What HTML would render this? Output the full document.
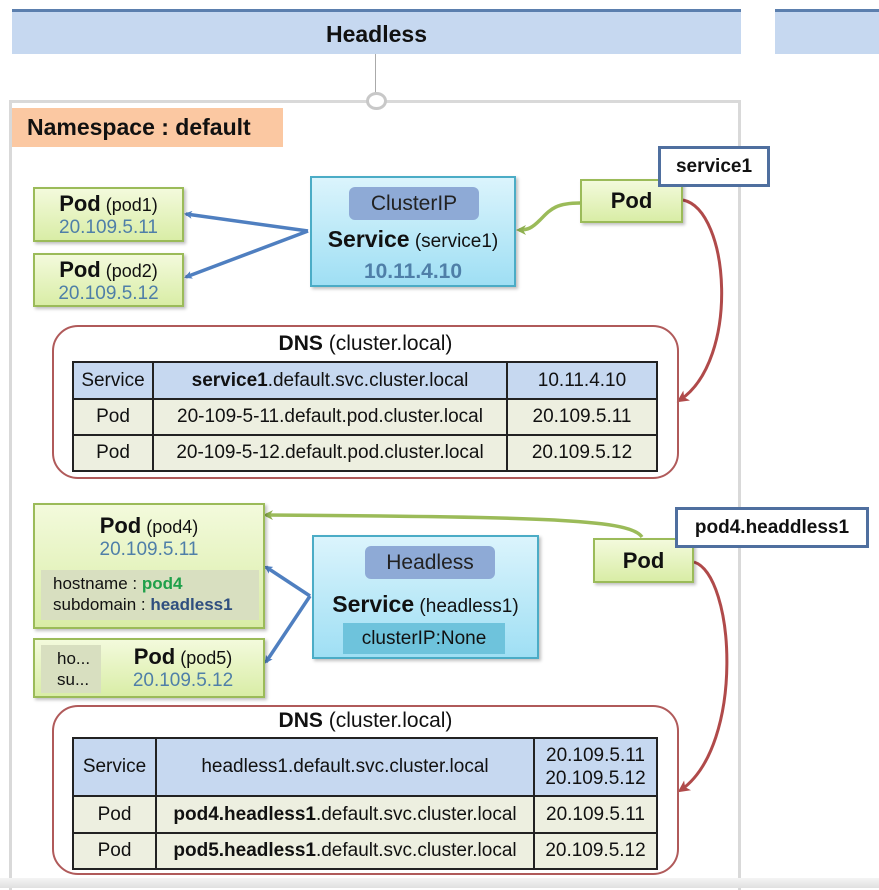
<!DOCTYPE html>
<html><head><meta charset="utf-8"><style>
*{box-sizing:border-box;margin:0;padding:0}
body{width:879px;height:888px;position:relative;background:#fff;font-family:"Liberation Sans",sans-serif;overflow:hidden;color:#111}
.a{position:absolute}
.bar{background:#c6d8f0;border-top:3px solid #5b7fae}
.pod{position:absolute;background:linear-gradient(#f3fadc,#d9eda6);border:2px solid #9bbb59;box-shadow:2px 2px 3px rgba(0,0,0,.25);text-align:center}
.svc{position:absolute;background:linear-gradient(#dbf4fc,#9fdff4);border:2px solid #4bacc6;box-shadow:2px 2px 3px rgba(0,0,0,.25);text-align:center}
.pill{position:absolute;background:#8eaad6;border-radius:6px;text-align:center;color:#222}
.b{font-weight:bold}
.ip{color:#4f7fa8}
.dns{position:absolute;border:2px solid #b05a5a;border-radius:26px}
table{position:absolute;border-collapse:collapse;font-size:19px}
td{border:2px solid #222;text-align:center;padding:0;white-space:nowrap}
.h td{background:#c6d8f0}
.r td{background:#edefe0}
.lbl{position:absolute;background:#fff;border:3px solid #4f6f9f;font-weight:bold;font-size:19px;text-align:center}
</style></head><body>
<div class="a bar" style="left:12px;top:9px;width:729px;height:45px;font-weight:bold;font-size:23px;text-align:center;line-height:44px">Headless</div>
<div class="a bar" style="left:775px;top:9px;width:104px;height:45px"></div>
<div class="a" style="left:375px;top:54px;width:1px;height:40px;background:#aaa"></div>
<div class="a" style="left:9px;top:100px;width:732px;height:790px;border:3px solid #d9d9d9;border-bottom:none"></div>
<div class="a" style="left:366px;top:92px;width:21px;height:18px;border:3px solid #c8c8c8;border-radius:50%;background:#fff"></div>
<div class="a" style="left:12px;top:108px;width:271px;height:39px;background:#fbc8a2;font-weight:bold;font-size:23px;line-height:39px;padding-left:15px">Namespace : default</div>
<div class="a" style="left:0;top:878px;width:879px;height:10px;background:linear-gradient(#f4f4f4,#e0e0e0)"></div>

<svg class="a" style="left:0;top:0" width="879" height="888">
<defs>
<marker id="mb" markerWidth="8" markerHeight="8" refX="6" refY="4" orient="auto" markerUnits="userSpaceOnUse"><path d="M0,0 L8,4 L0,8 L2,4z" fill="#4f7fc0"/></marker>
<marker id="mg" markerWidth="10" markerHeight="10" refX="7" refY="5" orient="auto" markerUnits="userSpaceOnUse"><path d="M0,0 L10,5 L0,10 L3,5z" fill="#8fb050"/></marker>
<marker id="mr" markerWidth="12" markerHeight="12" refX="8" refY="6" orient="auto" markerUnits="userSpaceOnUse"><path d="M0,0 L12,6 L0,12 L3,6z" fill="#b04a4a"/></marker>
</defs>
<g stroke="#4f7fc0" stroke-width="3.5" fill="none">
<path d="M308,231 L186,214" marker-end="url(#mb)"/>
<path d="M308,231 L186,277" marker-end="url(#mb)"/>
<path d="M310,596 L266,567" marker-end="url(#mb)"/>
<path d="M310,596 L266,662" marker-end="url(#mb)"/>
</g>
<path d="M580,203 C555,203 550,210 540,220 C532,228 528,230 519,230" stroke="#9bbb59" stroke-width="3.5" fill="none" marker-end="url(#mg)"/>
<path d="M642,537 C630,520 560,517 266,515" stroke="#9bbb59" stroke-width="3.5" fill="none" marker-end="url(#mg)"/>
<path d="M683,200 C730,210 740,360 680,400" stroke="#b04a4a" stroke-width="3" fill="none" marker-end="url(#mr)"/>
<path d="M694,562 C735,575 745,745 681,790" stroke="#b04a4a" stroke-width="3" fill="none" marker-end="url(#mr)"/>
</svg>

<div class="pod" style="left:33px;top:187px;width:151px;height:55px;font-size:18px;line-height:22px;padding-top:4px"><span class="b" style="font-size:22px">Pod</span> (pod1)<br><span class="ip" style="font-size:19px">20.109.5.11</span></div>
<div class="pod" style="left:33px;top:253px;width:151px;height:54px;font-size:18px;line-height:22px;padding-top:4px"><span class="b" style="font-size:22px">Pod</span> (pod2)<br><span class="ip" style="font-size:19px">20.109.5.12</span></div>

<div class="svc" style="left:310px;top:176px;width:206px;height:111px">
<div class="pill" style="left:37px;top:9px;width:130px;height:33px;font-size:21px;line-height:33px">ClusterIP</div>
<div class="a" style="left:0;top:48px;width:202px;font-size:19px;white-space:nowrap"><span class="b" style="font-size:23px">Service</span> (service1)</div>
<div class="a b ip" style="left:0;top:82px;width:202px;font-size:21px">10.11.4.10</div>
</div>

<div class="pod" style="left:580px;top:179px;width:103px;height:44px;font-weight:bold;font-size:22px;line-height:40px">Pod</div>
<div class="lbl" style="left:658px;top:146px;width:112px;height:41px;line-height:35px">service1</div>

<div class="dns" style="left:52px;top:325px;width:627px;height:154px">
<div class="a" style="left:0;top:5px;width:623px;text-align:center;font-size:21px"><span class="b">DNS</span> (cluster.local)</div>
</div>
<table style="left:72px;top:361px;width:586px">
<tr class="h" style="height:37px"><td style="width:80px">Service</td><td style="width:354px"><b>service1</b>.default.svc.cluster.local</td><td>10.11.4.10</td></tr>
<tr class="r" style="height:36px"><td>Pod</td><td>20-109-5-11.default.pod.cluster.local</td><td>20.109.5.11</td></tr>
<tr class="r" style="height:36px"><td>Pod</td><td>20-109-5-12.default.pod.cluster.local</td><td>20.109.5.12</td></tr>
</table>

<div class="pod" style="left:33px;top:503px;width:232px;height:126px;font-size:18px;line-height:22px;padding-top:10px"><span class="b" style="font-size:22px">Pod</span> (pod4)<br><span class="ip" style="font-size:19px">20.109.5.11</span>
<div class="a" style="left:6px;top:65px;width:218px;height:50px;background:#d8dfc0;text-align:left;padding-left:12px;padding-top:3px;font-size:17px;line-height:21px;white-space:nowrap">hostname : <b style="color:#1fa04a">pod4</b><br>subdomain : <b style="color:#2f4f7f">headless1</b></div></div>
<div class="pod" style="left:33px;top:638px;width:232px;height:60px;font-size:18px;line-height:22px;padding-top:6px;padding-left:68px"><span class="b" style="font-size:22px">Pod</span> (pod5)<br><span class="ip" style="font-size:19px">20.109.5.12</span>
<div class="a" style="left:6px;top:5px;width:60px;height:48px;background:#d8dfc0;text-align:left;padding-left:16px;padding-top:3px;font-size:17px;line-height:21px">ho...<br>su...</div></div>

<div class="svc" style="left:312px;top:535px;width:227px;height:124px">
<div class="pill" style="left:51px;top:9px;width:130px;height:33px;font-size:21px;line-height:33px">Headless</div>
<div class="a" style="left:0;top:54px;width:223px;font-size:19px;white-space:nowrap"><span class="b" style="font-size:23px">Service</span> (headless1)</div>
<div class="a" style="left:29px;top:86px;width:162px;height:31px;background:#6ec3dc;font-size:19px;line-height:31px">clusterIP:None</div>
</div>

<div class="pod" style="left:593px;top:538px;width:101px;height:45px;font-weight:bold;font-size:22px;line-height:41px">Pod</div>
<div class="lbl" style="left:675px;top:507px;width:194px;height:41px;line-height:35px">pod4.headdless1</div>

<div class="dns" style="left:52px;top:705px;width:627px;height:170px">
<div class="a" style="left:0;top:2px;width:623px;text-align:center;font-size:21px"><span class="b">DNS</span> (cluster.local)</div>
</div>
<table style="left:72px;top:737px;width:586px">
<tr class="h" style="height:58px"><td style="width:83px">Service</td><td style="width:378px">headless1.default.svc.cluster.local</td><td style="line-height:23px">20.109.5.11<br>20.109.5.12</td></tr>
<tr class="r" style="height:37px"><td>Pod</td><td><b>pod4.headless1</b>.default.svc.cluster.local</td><td>20.109.5.11</td></tr>
<tr class="r" style="height:36px"><td>Pod</td><td><b>pod5.headless1</b>.default.svc.cluster.local</td><td>20.109.5.12</td></tr>
</table>
</body></html>
